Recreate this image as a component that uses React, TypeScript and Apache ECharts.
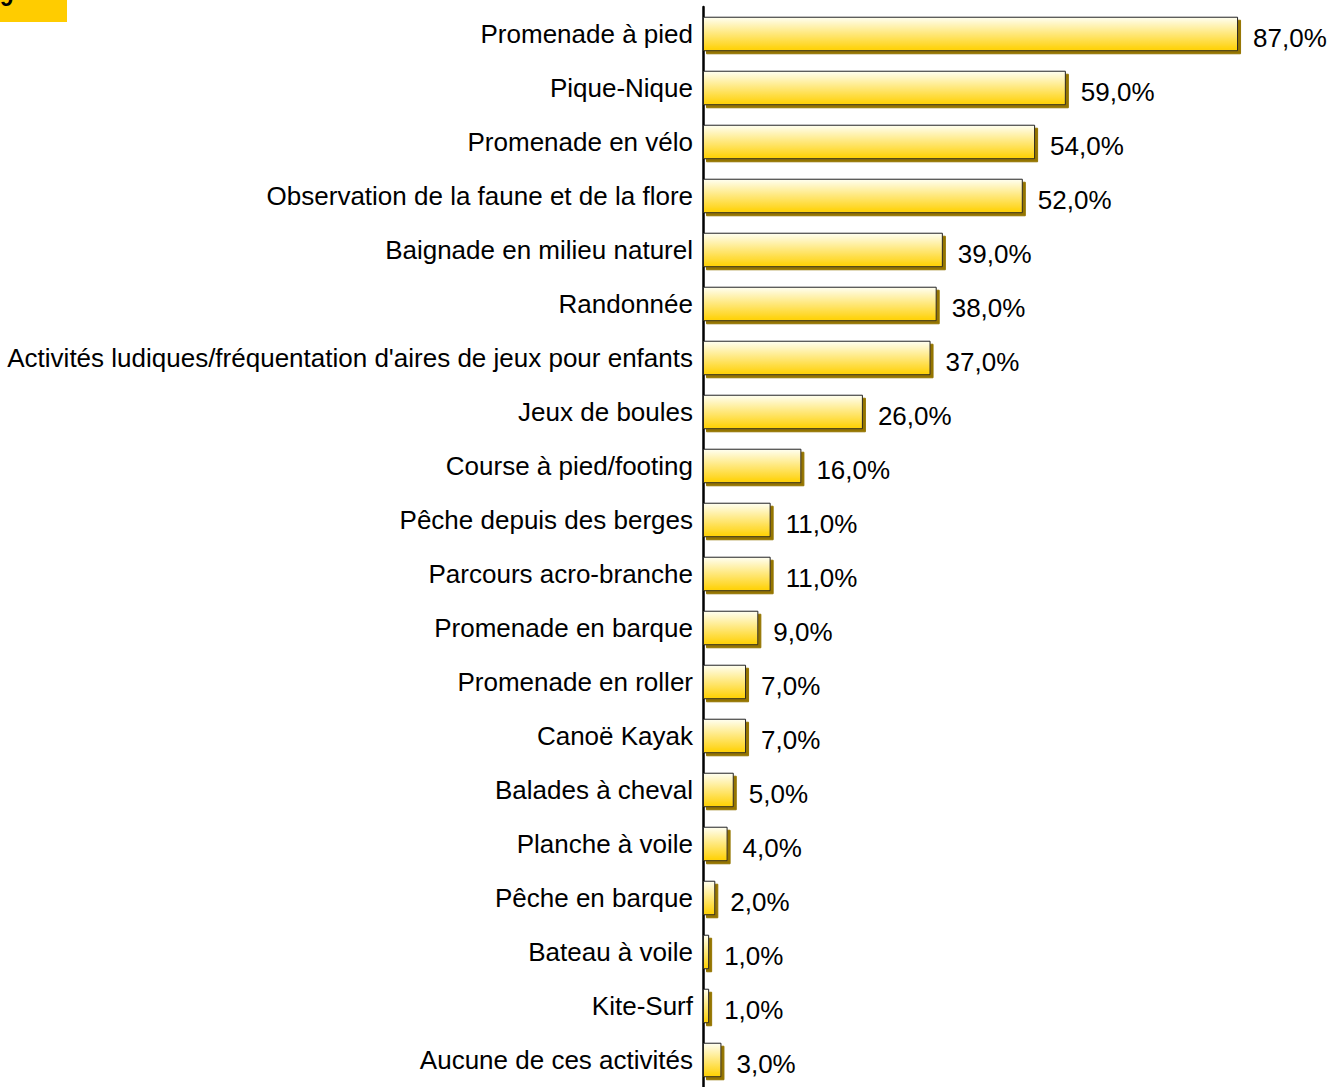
import React, { useEffect, useRef } from "react";
import * as echarts from "echarts";

const categories = [
  "Promenade à pied",
  "Pique-Nique",
  "Promenade en vélo",
  "Observation de la faune et de la flore",
  "Baignade en milieu naturel",
  "Randonnée",
  "Activités ludiques/fréquentation d'aires de jeux pour enfants",
  "Jeux de boules",
  "Course à pied/footing",
  "Pêche depuis des berges",
  "Parcours acro-branche",
  "Promenade en barque",
  "Promenade en roller",
  "Canoë Kayak",
  "Balades à cheval",
  "Planche à voile",
  "Pêche en barque",
  "Bateau à voile",
  "Kite-Surf",
  "Aucune de ces activités",
];
const values = [87, 59, 54, 52, 39, 38, 37, 26, 16, 11, 11, 9, 7, 7, 5, 4, 2, 1, 1, 3];

export default function App() {
  const ref = useRef<HTMLDivElement>(null);
  useEffect(() => {
    if (!ref.current) return;
    const chart = echarts.init(ref.current, undefined, { renderer: "svg" });
    chart.setOption({
      animation: false,
      backgroundColor: "#ffffff",
      textStyle: { fontFamily: "Liberation Sans, Arial, sans-serif" },
      graphic: [
        { type: "rect", left: 0, top: 0, shape: { width: 67, height: 22 }, style: { fill: "#FFCC00" } },
        { type: "text", x: 0, y: -15, style: { text: "9", fontSize: 24, fontWeight: "bold", fill: "#000", fontFamily: "Liberation Sans, Arial, sans-serif" } },
      ],
      grid: { left: 703, width: 615, top: 7, height: 1086, containLabel: false },
      xAxis: {
        type: "value",
        min: 0,
        max: 100,
        show: false,
      },
      yAxis: {
        type: "category",
        inverse: true,
        data: categories,
        axisLine: { show: true, lineStyle: { color: "#000", width: 2.5 } },
        axisTick: { show: false },
        axisLabel: { color: "#000", fontSize: 26, margin: 10, verticalAlign: "middle", padding: [0, 0, 8, 0] },
      },
      series: [
        {
          type: "bar",
          data: values,
          barWidth: "64%",
          itemStyle: {
            color: new echarts.graphic.LinearGradient(0, 0, 0, 1, [
              { offset: 0, color: "#FFFFF2" },
              { offset: 1, color: "#FFD000" },
            ]),
            borderColor: "#222",
            borderWidth: 1,
            shadowColor: "#947400",
            shadowOffsetX: 3,
            shadowOffsetY: 3,
            shadowBlur: 0,
          },
          label: {
            show: true,
            position: "right",
            distance: 15,
            offset: [0, 4],
            color: "#000",
            fontSize: 26,
            formatter: (p: any) => p.value.toFixed(1).replace(".", ",") + "%",
          },
        },
      ],
    });
    return () => chart.dispose();
  }, []);
  return <div ref={ref} style={{ width: 1330, height: 1087, position: "absolute", left: 0, top: 0 }} />;
}
